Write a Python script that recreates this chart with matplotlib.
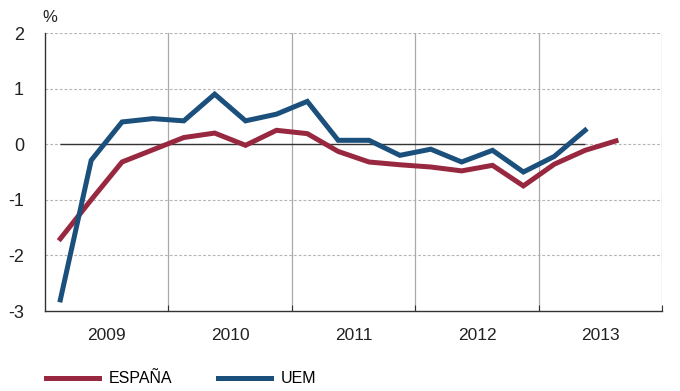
import matplotlib
matplotlib.use('Agg')
import matplotlib.pyplot as plt

plt.rcParams['font.family'] = ['Liberation Sans', 'DejaVu Sans']

# trimestral, 2009 T1 .. 2013 T3
years = [2009, 2010, 2011, 2012, 2013]
espana = [-1.70, -1.00, -0.32, -0.10, 0.12, 0.20, -0.02, 0.25, 0.19,
          -0.13, -0.32, -0.37, -0.41, -0.48, -0.38, -0.75, -0.36, -0.11, 0.06]
uem = [-2.80, -0.29, 0.40, 0.46, 0.42, 0.90, 0.42, 0.54, 0.77,
       0.07, 0.07, -0.20, -0.09, -0.32, -0.11, -0.50, -0.22, 0.25]

x_esp = [2009 + (i + 0.5) / 4 for i in range(len(espana))]
x_uem = [2009 + (i + 0.5) / 4 for i in range(len(uem))]

red = '#98283f'
blue = '#1b4f7c'

fig = plt.figure(figsize=(6.8, 3.91), dpi=100)
ax = fig.add_axes([0.066, 0.2046, 0.908, 0.711])

ax.set_xlim(2009, 2014)
ax.set_ylim(-3, 2)

for v in [2, 1, 0, -1, -2]:
    ax.axhline(v, color='#b5b5b5', linestyle=(0, (2.5, 1.8)), linewidth=0.8, zorder=1)
for yr in years[1:] + [2014]:
    ax.axvline(yr, color='#aaaaaa', linewidth=0.9, zorder=1)
ax.hlines(0, x_uem[0], x_uem[-1], color='#333333', linewidth=1.0, zorder=2)

ax.plot(x_esp, espana, color=red, linewidth=3.6, solid_joinstyle='miter', zorder=3, label='ESPAÑA')
ax.plot(x_uem, uem, color=blue, linewidth=3.6, solid_joinstyle='miter', zorder=4, label='UEM')

for s in ['top', 'right']:
    ax.spines[s].set_visible(False)
for s in ['left', 'bottom']:
    ax.spines[s].set_color('#333333')
    ax.spines[s].set_linewidth(1.0)

ax.set_yticks([-3, -2, -1, 0, 1, 2])
ax.set_yticklabels(['-3', '-2', '-1', '0', '1', '2'])
ax.tick_params(axis='y', length=0, pad=15, labelsize=13, colors='#222222')

ax.set_xticks(years[1:] + [2014])
ax.set_xticklabels([])
ax.set_xticks([y + 0.5 for y in years], minor=True)
ax.set_xticklabels([str(y) for y in years], minor=True)
ax.tick_params(axis='x', which='major', direction='in', length=4, color='#333333')
ax.tick_params(axis='x', which='minor', length=0, pad=12, labelsize=12.5, colors='#222222')

fig.text(0.063, 0.955, '%', fontsize=12, color='#222222', ha='left', va='center')

fig.legend(loc='lower left', bbox_to_anchor=(0.047, -0.025), ncol=2, frameon=False,
           fontsize=11.5, handlelength=3.3, handletextpad=0.6, columnspacing=2.9)

fig.savefig('out.png', dpi=100)
